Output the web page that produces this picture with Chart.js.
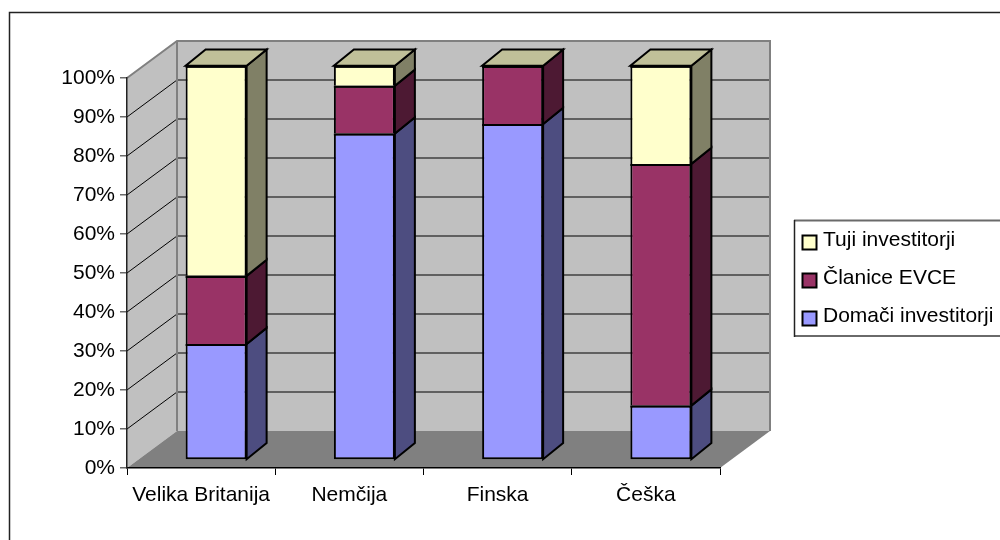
<!DOCTYPE html>
<html>
<head>
<meta charset="utf-8">
<script src="https://cdn.jsdelivr.net/npm/chart.js@4"></script>
<style>
  html, body { margin: 0; background: #fff; }
  canvas { display: block; }
</style>
</head>
<body>
<canvas id="investorChart" width="1000" height="540"></canvas>
<script>
const categories = ['Velika Britanija', 'Nemčija', 'Finska', 'Češka'];
const domestic = [29.4, 82.8, 85.2, 13.8];
const evca = [17.3, 12.1, 14.8, 61.3];
const foreign = [53.3, 5.1, 0, 24.9];

const FONT_SIZE = 21;
const FONT = FONT_SIZE + 'px "Liberation Sans", Arial, sans-serif';

// fake 3D box: wall depth from the front plane, and depth of the columns
const WALL_DX = 50, WALL_DY = -37;
const BAR_DX = 20, BAR_DY = -16;
// columns sit partway into the floor
const barTransform = [1, 0, 0, 1.011, 15, -13.15];

const faces = [
  { front: '#9999ff', side: '#4d4d80', top: '#4d4d80' },
  { front: '#993366', side: '#4d1933', top: '#4d1933' },
  { front: '#ffffcc', side: '#808066', top: '#c0c099' }
];

function polygon(ctx, pts, fill, stroke, lw) {
  ctx.beginPath();
  pts.forEach((p, i) => i ? ctx.lineTo(p[0], p[1]) : ctx.moveTo(p[0], p[1]));
  ctx.closePath();
  ctx.fillStyle = fill;
  ctx.fill();
  if (stroke) {
    ctx.strokeStyle = stroke;
    ctx.lineWidth = lw;
    ctx.lineJoin = 'miter';
    ctx.stroke();
  }
}

const walls = {
  id: 'walls',
  beforeDraw(chart) {
    const { ctx, chartArea: a, scales } = chart;
    ctx.save();

    // outer frame runs off the right and bottom edge
    ctx.strokeStyle = '#222';
    ctx.lineWidth = 1.5;
    ctx.strokeRect(9.5, 12.5, 1100, 700);

    const bl = [a.left + WALL_DX, a.bottom + WALL_DY];
    const br = [a.right + WALL_DX, a.bottom + WALL_DY];
    const tl = [a.left + WALL_DX, a.top + WALL_DY];
    const tr = [a.right + WALL_DX, a.top + WALL_DY];

    polygon(ctx, [tl, tr, br, bl], '#c0c0c0');
    polygon(ctx, [[a.left, a.top], tl, bl, [a.left, a.bottom]], '#c0c0c0');
    polygon(ctx, [[a.left, a.bottom], [a.right, a.bottom], br, bl], '#808080');

    scales.y.ticks.forEach(t => {
      if (t.value === 0 || t.value === 100) return;
      const y = scales.y.getPixelForValue(t.value);
      ctx.beginPath();
      ctx.moveTo(a.left, y);
      ctx.lineTo(bl[0], y + WALL_DY);
      ctx.strokeStyle = '#000';
      ctx.lineWidth = 1;
      ctx.stroke();
      ctx.beginPath();
      ctx.moveTo(bl[0], y + WALL_DY);
      ctx.lineTo(br[0], y + WALL_DY);
      ctx.strokeStyle = '#404040';
      ctx.lineWidth = 1.5;
      ctx.stroke();
    });

    // wall outline
    ctx.strokeStyle = '#808080';
    ctx.lineWidth = 2;
    ctx.beginPath();
    ctx.moveTo(a.left, a.top);
    ctx.lineTo(tl[0], tl[1]);
    ctx.lineTo(tr[0], tr[1]);
    ctx.lineTo(br[0], br[1]);
    ctx.moveTo(tl[0], tl[1]);
    ctx.lineTo(bl[0], bl[1]);
    ctx.stroke();
    ctx.restore();
  }
};

const columns3d = {
  id: 'columns3d',
  beforeDatasetsDraw(chart) {
    const ctx = chart.ctx;
    ctx.save();
    ctx.transform(...barTransform);
    chart.data.datasets.forEach((ds, i) => {
      chart.getDatasetMeta(i).data.forEach(bar => {
        const r = bar.x + bar.width / 2;
        const l = bar.x - bar.width / 2;
        polygon(ctx, [[r, bar.y], [r + BAR_DX, bar.y + BAR_DY], [r + BAR_DX, bar.base + BAR_DY], [r, bar.base]],
          faces[i].side, '#000', 2);
        // the uppermost series caps the column
        if (i === chart.data.datasets.length - 1) {
          polygon(ctx, [[l, bar.y], [r, bar.y], [r + BAR_DX, bar.y + BAR_DY], [l + BAR_DX, bar.y + BAR_DY]],
            faces[i].top, '#000', 2);
        }
      });
    });
  },
  afterDatasetsDraw(chart) {
    const ctx = chart.ctx;
    // segment fills eat into the seam below them, so redraw the seams on top
    ctx.strokeStyle = '#000';
    ctx.lineWidth = 2;
    chart.data.datasets.forEach((ds, i) => {
      chart.getDatasetMeta(i).data.forEach(bar => {
        ctx.beginPath();
        ctx.moveTo(bar.x - bar.width / 2, bar.y + 1);
        ctx.lineTo(bar.x + bar.width / 2, bar.y + 1);
        ctx.stroke();
      });
    });
    ctx.restore();
  }
};

const boxLegend = {
  id: 'boxLegend',
  afterDraw(chart) {
    const ctx = chart.ctx;
    ctx.save();
    ctx.fillStyle = '#fff';
    ctx.fillRect(794, 220, 206, 116);
    ctx.strokeStyle = '#6a6a6a';
    ctx.lineWidth = 2;
    ctx.beginPath();
    ctx.moveTo(794, 220.5);
    ctx.lineTo(1000, 220.5);
    ctx.moveTo(794, 336);
    ctx.lineTo(1000, 336);
    ctx.stroke();
    ctx.strokeStyle = '#222';
    ctx.lineWidth = 1.5;
    ctx.beginPath();
    ctx.moveTo(794.5, 220);
    ctx.lineTo(794.5, 337);
    ctx.stroke();
    ctx.font = FONT;
    ctx.textBaseline = 'middle';
    chart.data.datasets.slice().reverse().forEach((ds, i) => {
      const y = 242 + i * 38;
      ctx.fillStyle = ds.backgroundColor;
      ctx.strokeStyle = '#000';
      ctx.lineWidth = 2;
      ctx.fillRect(802.5, y - 6.5, 14, 14);
      ctx.strokeRect(802.5, y - 6.5, 14, 14);
      ctx.fillStyle = '#000';
      ctx.fillText(ds.label, 823, y - 2);
    });
    ctx.restore();
  }
};

const barStyle = { borderColor: '#000', borderWidth: 2, borderSkipped: 'bottom', inflateAmount: 0, clip: false, barThickness: 61 };

new Chart(document.getElementById('investorChart'), {
  type: 'bar',
  data: {
    labels: categories,
    datasets: [
      // only the lowest segment keeps its bottom edge, so seams stay one line thick
      { label: 'Domači investitorji', data: domestic, backgroundColor: faces[0].front, ...barStyle, borderSkipped: false },
      { label: 'Članice EVCE', data: evca, backgroundColor: faces[1].front, ...barStyle },
      { label: 'Tuji investitorji', data: foreign, backgroundColor: faces[2].front, ...barStyle }
    ]
  },
  plugins: [walls, columns3d, boxLegend],
  options: {
    responsive: false,
    animation: false,
    layout: { padding: { left: 27, top: 78, right: 280, bottom: 32 } },
    plugins: { legend: { display: false }, tooltip: { enabled: false } },
    scales: {
      x: {
        stacked: true,
        afterFit: s => { s.height = 40; },
        border: { color: '#000', width: 1.5 },
        grid: { drawOnChartArea: false, color: '#000', tickLength: 7, lineWidth: 1 },
        ticks: { color: '#000', font: { family: '"Liberation Sans"', size: FONT_SIZE }, padding: 8, maxRotation: 0 }
      },
      y: {
        stacked: true,
        min: 0,
        max: 100,
        afterFit: s => { s.width = 100; },
        border: { color: '#222', width: 1.5 },
        grid: { drawOnChartArea: false, color: '#6a6a6a', tickLength: 7, lineWidth: 1.5 },
        ticks: { color: '#000', stepSize: 10, font: { family: '"Liberation Sans"', size: FONT_SIZE }, padding: 5, callback: v => v + '%' }
      }
    }
  }
});
</script>
</body>
</html>
